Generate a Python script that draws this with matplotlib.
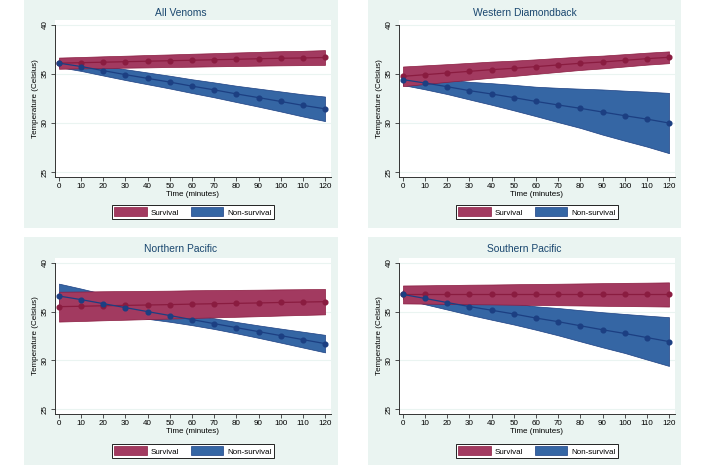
import matplotlib
matplotlib.use("Agg")
import matplotlib.pyplot as plt
from matplotlib.patches import Patch, Rectangle

plt.rcParams['font.family'] = ['Liberation Sans', 'DejaVu Sans']

# time points (minutes)
minutes = [0, 10, 20, 30, 40, 50, 60, 70, 80, 90, 100, 110, 120]

titles = ["All Venoms", "Western Diamondback", "Northern Pacific", "Southern Pacific"]

# predicted temperature and half width of the 95% band
surv_pred = [
    [36.1, 36.15, 36.2, 36.25, 36.3, 36.35, 36.4, 36.45, 36.5, 36.55, 36.6, 36.63, 36.68],
    [34.76, 34.93, 35.1, 35.27, 35.44, 35.58, 35.75, 35.92, 36.09, 36.22, 36.39, 36.56, 36.7],
    [35.51, 35.55, 35.6, 35.64, 35.68, 35.72, 35.77, 35.81, 35.85, 35.89, 35.94, 35.98, 36.02],
    [36.76, 36.76, 36.76, 36.76, 36.76, 36.76, 36.76, 36.76, 36.76, 36.76, 36.76, 36.76, 36.76],
]
surv_half = [
    [0.57, 0.58, 0.6, 0.61, 0.63, 0.64, 0.66, 0.67, 0.69, 0.7, 0.72, 0.73, 0.75],
    [1.0, 0.95, 0.9, 0.86, 0.82, 0.78, 0.74, 0.71, 0.68, 0.65, 0.63, 0.61, 0.6],
    [1.53, 1.51, 1.49, 1.47, 1.45, 1.43, 1.42, 1.4, 1.38, 1.36, 1.34, 1.32, 1.3],
    [0.92, 0.94, 0.97, 1.0, 1.02, 1.05, 1.08, 1.1, 1.13, 1.16, 1.19, 1.21, 1.24],
]
nonsurv_pred = [
    [36.1, 35.76, 35.34, 34.93, 34.55, 34.17, 33.76, 33.38, 32.97, 32.59, 32.2, 31.8, 31.45],
    [34.42, 34.08, 33.7, 33.3, 32.96, 32.59, 32.2, 31.84, 31.5, 31.12, 30.75, 30.4, 30.0],
    [36.6, 36.23, 35.82, 35.41, 35.0, 34.6, 34.18, 33.77, 33.36, 32.95, 32.54, 32.13, 31.72],
    [36.76, 36.35, 35.93, 35.52, 35.14, 34.76, 34.34, 33.97, 33.55, 33.14, 32.76, 32.34, 31.93],
]
nonsurv_half = [
    [0.4, 0.45, 0.5, 0.55, 0.6, 0.65, 0.7, 0.76, 0.83, 0.92, 1.02, 1.13, 1.25],
    [0.55, 0.65, 0.75, 0.9, 1.1, 1.3, 1.5, 1.75, 2.0, 2.3, 2.55, 2.8, 3.07],
    [1.27, 1.13, 0.99, 0.86, 0.74, 0.64, 0.57, 0.55, 0.58, 0.64, 0.72, 0.81, 0.9],
    [0.45, 0.6, 0.72, 0.85, 0.97, 1.08, 1.2, 1.4, 1.6, 1.8, 2.0, 2.25, 2.5],
]

red_fill = "#a23a60"
red_line = "#8a1c40"
blue_fill = "#3566a4"
blue_line = "#1c3f82"
bg = "#eaf4f1"
navy = "#1a476f"

W, H = 706, 465
fig = plt.figure(figsize=(W / 100, H / 100), dpi=100)
fig.patch.set_facecolor("white")

# panel backgrounds (pixels: left, top, right, bottom)
panels = [(24, 0, 338, 228), (368, 0, 681, 228), (24, 237, 338, 465), (368, 237, 681, 465)]
# axes boxes in pixels
boxes = [(55, 20, 331, 177), (399, 20, 675, 177), (55, 258, 331, 414), (399, 258, 675, 414)]

for i in range(4):
    l, t, r, b = panels[i]
    fig.patches.append(Rectangle((l / W, 1 - b / H), (r - l) / W, (b - t) / H,
                                 transform=fig.transFigure, facecolor=bg,
                                 edgecolor="none", zorder=-5))
    fig.text((l + r) / 2 / W, 1 - (t + 12.5) / H, titles[i], ha="center", va="center",
             fontsize=7.4, color=navy)

    l, t, r, b = boxes[i]
    ax = fig.add_axes([l / W, 1 - b / H, (r - l) / W, (b - t) / H])
    ax.set_zorder(2)
    ax.set_facecolor("white")

    s_lo = [p - h for p, h in zip(surv_pred[i], surv_half[i])]
    s_hi = [p + h for p, h in zip(surv_pred[i], surv_half[i])]
    n_lo = [p - h for p, h in zip(nonsurv_pred[i], nonsurv_half[i])]
    n_hi = [p + h for p, h in zip(nonsurv_pred[i], nonsurv_half[i])]

    ax.fill_between(minutes, n_lo, n_hi, facecolor=blue_fill, edgecolor=blue_line,
                    linewidth=0.5, zorder=2)
    ax.fill_between(minutes, s_lo, s_hi, facecolor=red_fill, edgecolor=red_line,
                    linewidth=0.5, zorder=3)
    ax.plot(minutes, surv_pred[i], color=red_line, marker="o", markersize=3.4,
            linewidth=0.9, zorder=4)
    ax.plot(minutes, nonsurv_pred[i], color=blue_line, marker="o", markersize=3.4,
            linewidth=0.9, zorder=5)

    ax.set_xlim(-1.8, 122.7)
    ax.set_ylim(24.5, 40.5)
    ax.set_xticks(minutes)
    ax.set_yticks([25, 30, 35, 40])
    ax.grid(axis="y", color=bg, linewidth=0.8, zorder=1)
    ax.set_axisbelow(True)
    for side in ["top", "right"]:
        ax.spines[side].set_visible(False)
    for side in ["left", "bottom"]:
        ax.spines[side].set_color("#333333")
        ax.spines[side].set_linewidth(0.7)
    ax.spines["left"].set_bounds(24.5, 40)
    ax.tick_params(axis="both", direction="out", length=3, width=0.6, color="#333333",
                   labelsize=5.8, pad=1.5)
    plt.setp(ax.get_yticklabels(), rotation=90, va="center")
    ax.set_xlabel("Time (minutes)", fontsize=5.8, labelpad=0.5)
    ax.set_ylabel("Temperature (Celsius)", fontsize=5.8, labelpad=2)

    handles = [Patch(facecolor=red_fill, edgecolor=red_line, linewidth=0.5, label="Survival"),
               Patch(facecolor=blue_fill, edgecolor=blue_line, linewidth=0.5, label="Non-survival")]
    anchor = (201 - 177) / 157 if i < 2 else (440 - 414) / 156
    leg = ax.legend(handles=handles, loc="upper center", bbox_to_anchor=(0.5, -anchor),
                    ncol=2, fontsize=5.8, handlelength=4.0, handleheight=1.3,
                    fancybox=False, edgecolor="black", borderpad=0.3,
                    columnspacing=1.5, handletextpad=0.5, framealpha=1)
    leg.get_frame().set_linewidth(0.6)

fig.savefig("out.png", dpi=100)
